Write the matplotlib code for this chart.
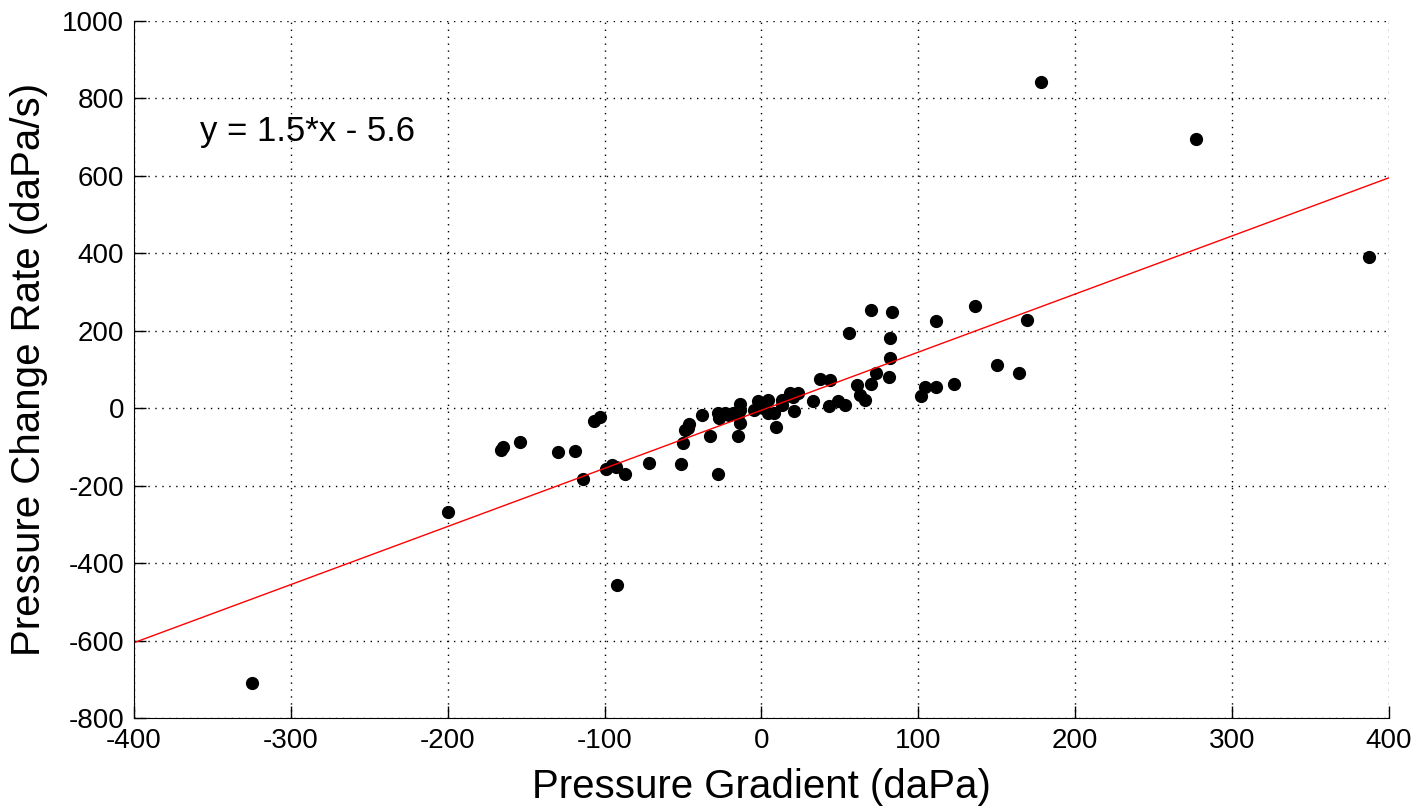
import numpy as np
import matplotlib.pyplot as plt

plt.rcParams['font.family'] = ['Liberation Sans', 'DejaVu Sans']
plt.rcParams['axes.unicode_minus'] = False

# pressure gradient (daPa) vs pressure change rate (daPa/s)
grad = [-325, -200, -166, -165, -154, -130, -119, -114, -107, -103,
        -99, -95, -93, -92, -87, -72, -51, -50, -49, -47,
        -46, -38, -33, -28, -28, -27, -23, -21, -18, -15,
        -14, -14, -14, -15, -5, -2, 1, 4, 4, 8,
        9, 13, 13, 18, 20, 21, 23, 33, 37, 43,
        44, 49, 53, 56, 61, 63, 66, 70, 70, 73,
        81, 82, 82, 83, 102, 104, 111, 111, 123, 136,
        150, 164, 169, 178, 277, 387]
rate = [-710, -268, -108, -100, -88, -114, -110, -184, -33, -22,
        -156, -148, -152, -457, -171, -141, -145, -89, -57, -51,
        -42, -18, -72, -170, -13, -26, -13, -18, -13, -18,
        10, -5, -39, -72, -5, 17, 0, 21, -13, -13,
        -50, 8, 21, 39, 29, -8, 39, 17, 74, 6,
        72, 19, 9, 193, 59, 34, 22, 61, 253, 91,
        81, 130, 180, 247, 32, 55, 55, 224, 61, 264,
        111, 91, 227, 841, 694, 390]

slope = 1.5
intercept = -5.6
fit_x = [-400, 400]

fig = plt.figure(figsize=(14.18, 8.08), dpi=100)
ax = fig.add_axes([0.0945, 0.1114, 0.8850, 0.8630])

ax.plot(grad, rate, 'o', color='black', markersize=8.5)
fx = np.array(fit_x)
ax.plot(fx, slope * fx + intercept, color='red', linewidth=1)

ax.text(-358, 690, 'y = 1.5*x - 5.6', fontsize=25, ha='left', va='baseline')

ax.set_xlim(-400, 400)
ax.set_ylim(-800, 1000)
ax.set_xticks(np.arange(-400, 401, 100))
ax.set_yticks(np.arange(-800, 1001, 200))
ax.grid(True, linestyle=(0, (1, 4)), color='black', linewidth=1)
ax.spines['top'].set_visible(False)
ax.spines['right'].set_visible(False)
ax.tick_params(direction='in', length=8.5, labelsize=20, width=1)
ax.tick_params(axis='x', pad=7)
ax.tick_params(axis='y', pad=7)
ax.set_xlabel('Pressure Gradient (daPa)', fontsize=29, labelpad=10)
ax.set_ylabel('Pressure Change Rate (daPa/s)', fontsize=29, labelpad=10)

fig.savefig('out.png', dpi=100)
